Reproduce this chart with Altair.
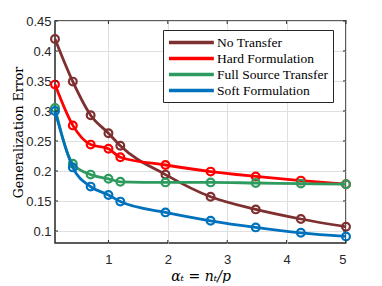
import altair as alt
import pandas as pd

alpha = [0.1, 0.4, 0.7, 1.0, 1.2, 1.96, 2.72, 3.48, 4.24, 5.0]
series_names = ["No Transfer", "Hard Formulation", "Full Source Transfer", "Soft Formulation"]
no_transfer = [0.420, 0.349, 0.293, 0.263, 0.242, 0.194, 0.157, 0.136, 0.120, 0.107]
hard_form = [0.344, 0.276, 0.244, 0.237, 0.223, 0.210, 0.199, 0.191, 0.184, 0.178]
full_source = [0.305, 0.212, 0.194, 0.187, 0.182, 0.181, 0.181, 0.180, 0.179, 0.178]
soft_form = [0.300, 0.206, 0.174, 0.160, 0.149, 0.131, 0.117, 0.106, 0.097, 0.091]
colors = ["#7E2F2F", "#FF0000", "#2E9B5E", "#0072BD"]
x_ticks = [1, 2, 3, 4, 5]
y_ticks = [0.1, 0.15, 0.2, 0.25, 0.3, 0.35, 0.4, 0.45]

W, H = 291, 222

all_vals = [no_transfer, hard_form, full_source, soft_form]
frames = []
for name, vals in zip(series_names, all_vals):
    frames.append(pd.DataFrame({"alpha": alpha, "err": vals, "method": name}))

xs = alt.Scale(domain=[0.1, 5], nice=False, zero=False)
ys = alt.Scale(domain=[0.08, 0.45], nice=False, zero=False)

x_axis = alt.Axis(values=x_ticks, format="~g", labelOverlap=False, labelPadding=10,
                  title="αₜ = nₜ/p", titleFont="DejaVu Serif",
                  titleFontStyle="italic", titleFontWeight="normal", titleFontSize=14,
                  titleBaseline="alphabetic", titleY=37)
y_axis = alt.Axis(values=y_ticks, format=".2~f", labelOverlap=False,
                  title="Generalization Error",
                  titleFont="DejaVu Serif", titleFontWeight="normal",
                  titleFontSize=12.5, titlePadding=0)
x_enc = alt.X("alpha:Q", scale=xs, axis=x_axis)
y_enc = alt.Y("err:Q", scale=ys, axis=y_axis)
color_enc = alt.Color("method:N",
                      scale=alt.Scale(domain=series_names, range=colors),
                      legend=alt.Legend(title=None, orient="none", legendX=108, legendY=9,
                                        symbolType="M-1,0H5.9", symbolSize=169,
                                        symbolStrokeWidth=3.5, labelFont="Liberation Serif",
                                        labelFontSize=13.5, labelColor="black", labelLimit=300,
                                        strokeColor="#262626", padding=4, rowPadding=0,
                                        labelOffset=33, fillColor="white"))

layers = []
for df in frames:
    base = alt.Chart(df)
    layers.append(base.mark_line(interpolate="monotone", strokeWidth=2.8).encode(
        x=x_enc, y=y_enc, color=color_enc))
    layers.append(base.mark_point(filled=False, size=60, strokeWidth=2.2, opacity=1).encode(
        x=x_enc, y=y_enc, color=color_enc))

xt = pd.DataFrame({"alpha": x_ticks})
yt = pd.DataFrame({"err": y_ticks})
tick_style = dict(color="#262626", strokeWidth=1)
layers.append(alt.Chart(xt).mark_rule(**tick_style).encode(
    x=x_enc, y=alt.value(H), y2=alt.value(H - 3)))
layers.append(alt.Chart(xt).mark_rule(**tick_style).encode(
    x=x_enc, y=alt.value(0), y2=alt.value(3)))
layers.append(alt.Chart(yt).mark_rule(**tick_style).encode(
    y=y_enc, x=alt.value(0), x2=alt.value(3)))
layers.append(alt.Chart(yt).mark_rule(**tick_style).encode(
    y=y_enc, x=alt.value(W - 3), x2=alt.value(W)))

chart = alt.layer(*layers).properties(
    width=W, height=H,
    autosize=alt.AutoSizeParams(type="none"),
    padding={"left": 47, "top": 13, "right": 20, "bottom": 40},
).configure_view(
    stroke="#262626", strokeWidth=1.5
).configure_axis(
    grid=True, gridColor="#DFDFDF", gridWidth=1, domain=False, ticks=False,
    labelFont="Liberation Sans", labelFontSize=13, labelColor="#262626",
    labelPadding=4, titleColor="black"
)

chart.save("out.html", embed_options={"renderer": "svg", "actions": False})
